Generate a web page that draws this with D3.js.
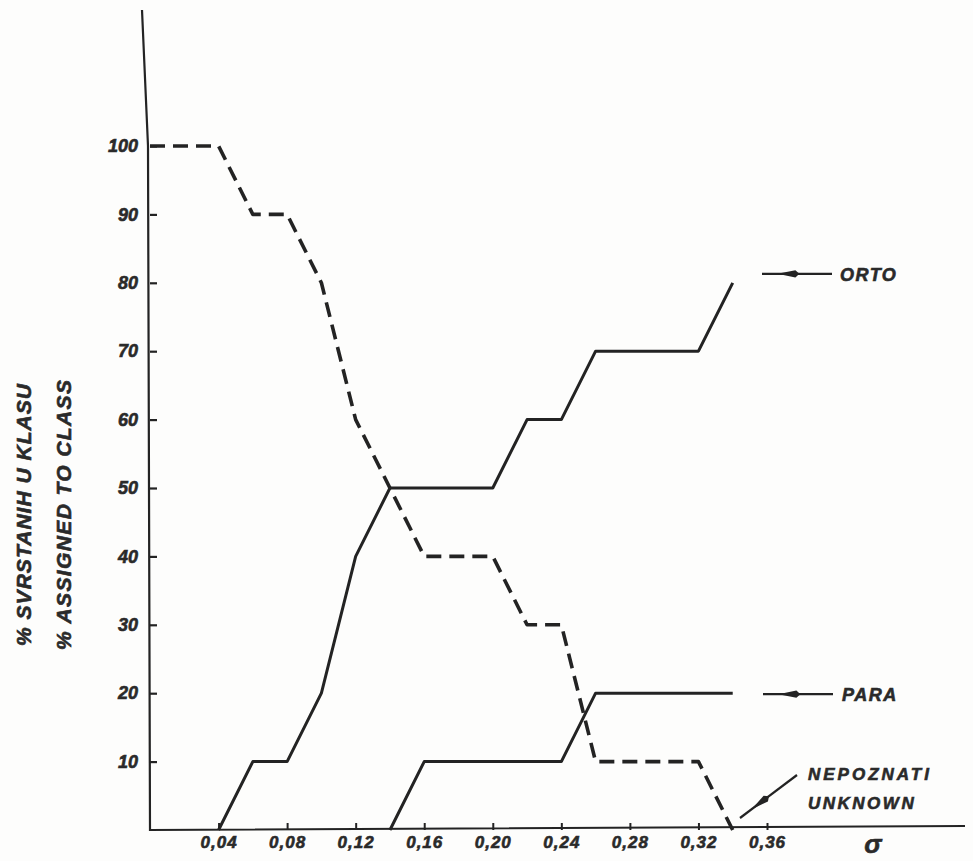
<!DOCTYPE html>
<html>
<head>
<meta charset="utf-8">
<script src="https://cdn.jsdelivr.net/npm/d3@7/dist/d3.min.js"></script>
<style>
  html, body { margin: 0; padding: 0; background: #fdfdfc; }
  svg { display: block; }
  text { font-family: "Liberation Sans", Arial, sans-serif; font-weight: bold; font-style: italic; fill: #2a2a2a; stroke: #2a2a2a; stroke-width: 0.6px; }
</style>
</head>
<body>
<div id="chart"></div>
<script>
// Data (sigma on x, % assigned to class on y)
const sigmaTicks = [0.04, 0.08, 0.12, 0.16, 0.20, 0.24, 0.28, 0.32, 0.36];
const pctTicks = [10, 20, 30, 40, 50, 60, 70, 80, 90, 100];

const ortoSigma = [0.04, 0.06, 0.08, 0.10, 0.12, 0.14, 0.20, 0.22, 0.24, 0.26, 0.32, 0.34];
const ortoPct   = [0,    10,   10,   20,   40,   50,   50,   60,   60,   70,   70,   80];

const paraSigma = [0.14, 0.16, 0.24, 0.26, 0.34];
const paraPct   = [0,    10,   10,   20,   20];

const unknownSigma = [0, 0.04, 0.06, 0.08, 0.10, 0.12, 0.14, 0.16, 0.20, 0.22, 0.24, 0.26, 0.32, 0.34];
const unknownPct   = [100, 100, 90,  90,   80,   60,   50,   40,   40,   30,   30,   10,   10,   0];

const yTitles = ['% SVRSTANIH U KLASU', '% ASSIGNED TO CLASS'];

// Layout
const width = 973;
const height = 861;
const ink = '#232323';

const x = d3.scaleLinear().domain([0, 0.36]).range([150, 767]);
const y = d3.scaleLinear().domain([0, 100]).range([830, 146]);

const svg = d3.select('#chart')
  .append('svg')
  .attr('width', width)
  .attr('height', height);

// Axis lines (drawn by hand so they run past the data range like the original)
svg.append('path')
  .attr('d', `M${x(0) - 8},10 L${x(0) - 2},${y(100)} L${x(0)},${y(0)} L965,${y(0) - 4}`)
  .attr('fill', 'none')
  .attr('stroke', ink)
  .attr('stroke-width', 2.2);

// Y axis: ticks point inward, labels on the left
const yAxis = svg.append('g')
  .attr('transform', `translate(${x(0)},0)`)
  .call(d3.axisLeft(y).tickValues(pctTicks).tickSizeInner(-7).tickSizeOuter(0).tickPadding(12));

yAxis.select('.domain').remove();
yAxis.selectAll('line').attr('stroke', ink).attr('stroke-width', 2.2);
yAxis.selectAll('text')
  .attr('font-size', 18)
  .attr('fill', '#2a2a2a')
  .style('font-family', '"Liberation Sans", Arial, sans-serif');

// X axis: ticks point upward
const xAxis = svg.append('g')
  .attr('transform', `translate(0,${y(0)})`)
  .call(d3.axisBottom(x).tickValues(sigmaTicks)
    .tickFormat(d => d.toFixed(2).replace('.', ','))
    .tickSizeInner(-7).tickSizeOuter(0).tickPadding(6));

xAxis.select('.domain').remove();
xAxis.selectAll('line').attr('stroke', ink).attr('stroke-width', 2);
xAxis.selectAll('text')
  .attr('font-size', 17)
  .attr('letter-spacing', 1)
  .attr('fill', '#2a2a2a')
  .style('font-family', '"Liberation Sans", Arial, sans-serif');

// sigma symbol at the end of the x axis
svg.append('text')
  .attr('x', 873)
  .attr('y', 853)
  .attr('text-anchor', 'middle')
  .attr('font-size', 26)
  .text('σ');

// Y axis titles, rotated
yTitles.forEach((t, i) => {
  const cx = 23 + i * 40;
  svg.append('text')
    .attr('transform', `translate(${cx + 8},${515}) rotate(-90)`)
    .attr('text-anchor', 'middle')
    .attr('font-size', 21)
    .attr('textLength', i === 0 ? 262 : 270)
    .attr('lengthAdjust', 'spacing')
    .text(t);
});

// Lines
const line = d3.line()
  .x(d => x(d[0]))
  .y(d => y(d[1]));

function drawSeries(sig, pct, dashed) {
  svg.append('path')
    .datum(sig.map((s, i) => [s, pct[i]]))
    .attr('d', line)
    .attr('fill', 'none')
    .attr('stroke', ink)
    .attr('stroke-width', dashed ? 3.6 : 3)
    .attr('stroke-linejoin', 'round')
    .attr('stroke-dasharray', dashed ? '15,8' : null);
}

drawSeries(unknownSigma, unknownPct, true);
drawSeries(ortoSigma, ortoPct, false);
drawSeries(paraSigma, paraPct, false);

// Annotation arrows with labels
function arrow(x1, y1, x2, y2, at) {
  // line from (x1,y1) to (x2,y2); arrowhead points towards (x1,y1), placed at fraction `at`
  svg.append('line')
    .attr('x1', x1).attr('y1', y1).attr('x2', x2).attr('y2', y2)
    .attr('stroke', ink).attr('stroke-width', 2.2);
  const dx = x2 - x1, dy = y2 - y1;
  const len = Math.hypot(dx, dy);
  const ux = dx / len, uy = dy / len;
  const px = -uy, py = ux;
  const tx = x1 + dx * at, ty = y1 + dy * at;
  const bx = tx + ux * 18, by = ty + uy * 18;
  const ex = bx + ux * 4, ey = by + uy * 4;
  svg.append('path')
    .attr('d', `M${tx},${ty} L${bx + px * 3.6},${by + py * 3.6} L${ex},${ey} L${bx - px * 3.6},${by - py * 3.6} Z`)
    .attr('fill', ink);
}

const ortoY = y(ortoPct[ortoPct.length - 1]) - 9;
arrow(762, ortoY, 832, ortoY, 0.22);
svg.append('text').attr('x', 840).attr('y', ortoY + 7).attr('font-size', 18).attr('letter-spacing', 1.5).text('ORTO');

const paraY = y(paraPct[paraPct.length - 1]) + 1;
arrow(763, paraY, 833, paraY, 0.22);
svg.append('text').attr('x', 842).attr('y', paraY + 7).attr('font-size', 18).attr('letter-spacing', 1.5).text('PARA');

arrow(740, 818, 797, 775, 0.2);
svg.append('text').attr('x', 808).attr('y', 780).attr('font-size', 17).attr('letter-spacing', 3).text('NEPOZNATI');
svg.append('text').attr('x', 808).attr('y', 809).attr('font-size', 17).attr('letter-spacing', 2.5).text('UNKNOWN');
</script>
</body>
</html>
